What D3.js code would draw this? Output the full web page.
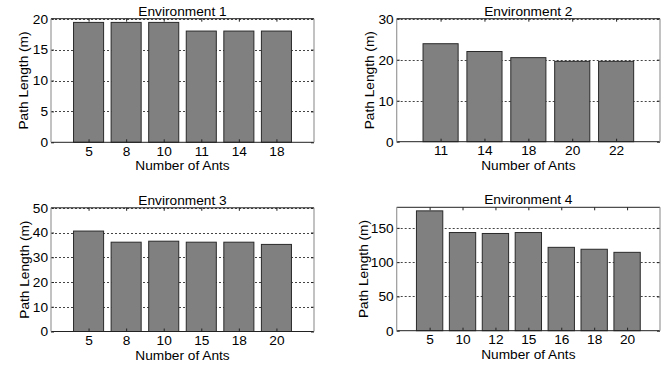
<!DOCTYPE html>
<html>
<head>
<meta charset="utf-8">
<script src="https://cdn.jsdelivr.net/npm/d3@7"></script>
<style>
  html, body { margin: 0; padding: 0; background: #fff; }
  svg { display: block; }
  text { font-family: "Liberation Sans", Arial, Helvetica, sans-serif; fill: #000; }
</style>
</head>
<body>
<svg id="chart" width="669" height="367"></svg>
<script>
// ---------------- data ----------------
const env1Ants = ["5", "8", "10", "11", "14", "18"];
const env1Length = [19.4, 19.4, 19.4, 18.0, 18.0, 18.0];

const env2Ants = ["11", "14", "18", "20", "22"];
const env2Length = [23.9, 22.0, 20.5, 19.6, 19.6];

const env3Ants = ["5", "8", "10", "15", "18", "20"];
const env3Length = [40.6, 36.1, 36.5, 36.1, 36.1, 35.2];

const env4Ants = ["5", "10", "12", "15", "16", "18", "20"];
const env4Length = [174.8, 143.2, 141.8, 143.2, 121.6, 118.8, 114.3];

const env1Ticks = [0, 5, 10, 15, 20];
const env2Ticks = [0, 10, 20, 30];
const env3Ticks = [0, 10, 20, 30, 40, 50];
const env4Ticks = [0, 50, 100, 150];

const titles = ["Environment 1", "Environment 2", "Environment 3", "Environment 4"];
const xLabel = "Number of Ants";
const yLabel = "Path Length (m)";

// ---------------- layout ----------------
const panels = [
  { title: titles[0], cats: env1Ants, vals: env1Length, ticks: env1Ticks, yMax: 20,  x0: 51,    x1: 314, y0: 18.7,  y1: 142.3, yLabX: 23 },
  { title: titles[1], cats: env2Ants, vals: env2Length, ticks: env2Ticks, yMax: 30,  x0: 396.7, x1: 660, y0: 18.7,  y1: 141.7, yLabX: 369 },
  { title: titles[2], cats: env3Ants, vals: env3Length, ticks: env3Ticks, yMax: 50,  x0: 51,    x1: 314, y0: 207.8, y1: 331.5, yLabX: 24 },
  { title: titles[3], cats: env4Ants, vals: env4Length, ticks: env4Ticks, yMax: 180, x0: 396.7, x1: 660, y0: 207.3, y1: 330.7, yLabX: 362.5 }
];

const svg = d3.select("#chart");
const FS = 13.7;

panels.forEach(p => {
  const n = p.cats.length;
  const idx = d3.range(1, n + 1);
  const x = d3.scaleLinear().domain([0, n + 1]).range([p.x0, p.x1]);
  const y = d3.scaleLinear().domain([0, p.yMax]).range([p.y1, p.y0]);
  const g = svg.append("g");

  // grid lines (behind bars)
  g.append("g").selectAll("line")
    .data(p.ticks.filter(t => t > 0))
    .join("line")
    .attr("x1", p.x0).attr("x2", p.x1)
    .attr("y1", d => Math.round(y(d)) + 0.5).attr("y2", d => Math.round(y(d)) + 0.5)
    .attr("stroke", "#444").attr("stroke-width", 1)
    .attr("stroke-dasharray", "2,2");

  // bars
  const bw = (x(1) - x(0)) * 0.8;
  g.append("g").selectAll("rect")
    .data(p.vals)
    .join("rect")
    .attr("x", (d, i) => x(i + 1) - bw / 2)
    .attr("width", bw)
    .attr("y", d => y(d))
    .attr("height", d => y(0) - y(d))
    .attr("fill", "#808080")
    .attr("stroke", "#2a2a2a")
    .attr("stroke-width", 1);

  // axes (ticks inward)
  const xAxis = d3.axisBottom(x).tickValues(idx).tickFormat(i => p.cats[i - 1])
    .tickSizeInner(-3).tickSizeOuter(0).tickPadding(4);
  const xg = g.append("g").attr("transform", `translate(0,${p.y1})`).call(xAxis);
  const xTop = d3.axisTop(x).tickValues(idx).tickFormat("")
    .tickSizeInner(-3).tickSizeOuter(0);
  const xtg = g.append("g").attr("transform", `translate(0,${p.y0})`).call(xTop);

  const yAxis = d3.axisLeft(y).tickValues(p.ticks).tickFormat(d3.format("d"))
    .tickSizeInner(-3).tickSizeOuter(0).tickPadding(3);
  const yg = g.append("g").attr("transform", `translate(${p.x0},0)`).call(yAxis);
  const yRight = d3.axisRight(y).tickValues(p.ticks).tickFormat("")
    .tickSizeInner(-3).tickSizeOuter(0);
  const yrg = g.append("g").attr("transform", `translate(${p.x1},0)`).call(yRight);

  [xg, xtg, yg, yrg].forEach(a => {
    a.select(".domain").remove();
    a.selectAll(".tick line").attr("stroke", "#222");
    a.selectAll("text").attr("font-size", FS).attr("fill", "#000")
      .style("font-family", "'Liberation Sans', Arial, sans-serif");
  });

  // box
  g.append("line").attr("x1", p.x0).attr("x2", p.x1).attr("y1", p.y0).attr("y2", p.y0)
    .attr("stroke", "#222").attr("stroke-width", 1);
  g.append("line").attr("x1", p.x0).attr("x2", p.x1).attr("y1", p.y1).attr("y2", p.y1)
    .attr("stroke", "#222").attr("stroke-width", 1);
  g.append("line").attr("x1", p.x0).attr("x2", p.x0).attr("y1", p.y0).attr("y2", p.y1)
    .attr("stroke", "#999").attr("stroke-width", 1.2);
  g.append("line").attr("x1", p.x1).attr("x2", p.x1).attr("y1", p.y0).attr("y2", p.y1)
    .attr("stroke", "#999").attr("stroke-width", 1.2);

  // title
  g.append("text")
    .attr("x", (p.x0 + p.x1) / 2).attr("y", p.y0 - 3)
    .attr("text-anchor", "middle").attr("font-size", FS)
    .text(p.title);

  // x label
  g.append("text")
    .attr("x", (p.x0 + p.x1) / 2).attr("y", p.y1 + 28)
    .attr("text-anchor", "middle").attr("font-size", FS)
    .text(xLabel);

  // y label
  g.append("text")
    .attr("transform", `translate(${p.yLabX + 5},${(p.y0 + p.y1) / 2}) rotate(-90)`)
    .attr("text-anchor", "middle").attr("font-size", FS)
    .text(yLabel);
});
</script>
</body>
</html>
